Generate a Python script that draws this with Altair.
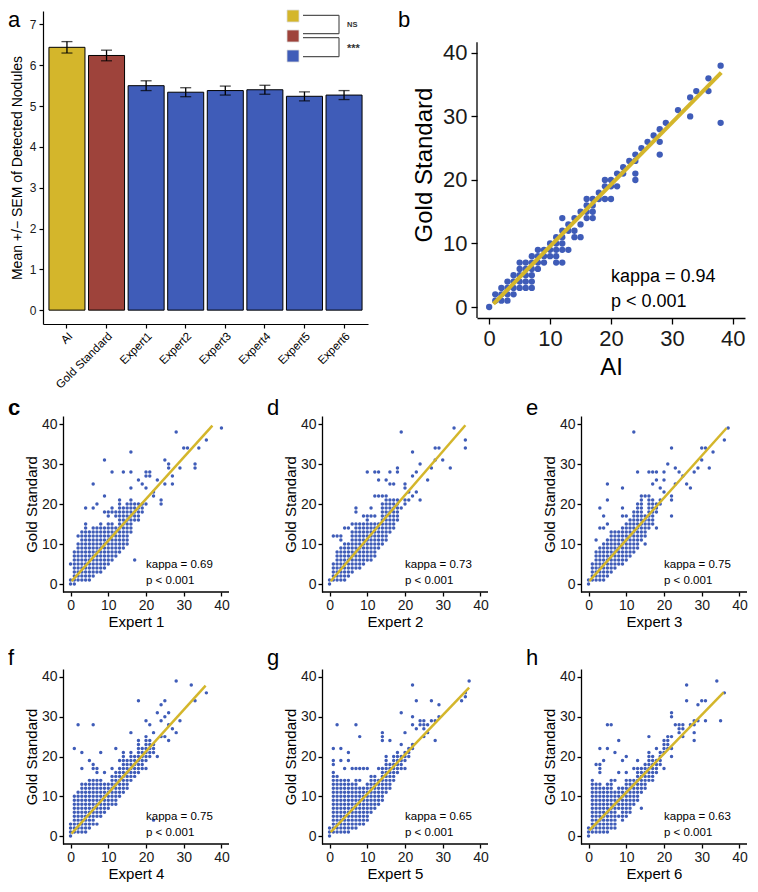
import altair as alt
import pandas as pd

GOLD = "#D4B62B"
RED = "#9E433B"
BLUE = "#3F5CB8"
FONT = "Liberation Sans"

# ---------------- panel a data ----------------
bar_groups = ["AI", "Gold Standard", "Expert1", "Expert2", "Expert3", "Expert4", "Expert5", "Expert6"]
bar_means = [6.44, 6.24, 5.50, 5.34, 5.38, 5.40, 5.24, 5.27]
bar_sem = [0.14, 0.13, 0.12, 0.11, 0.11, 0.11, 0.11, 0.11]
bar_colors = [GOLD, RED, BLUE, BLUE, BLUE, BLUE, BLUE, BLUE]
legend_colors = [GOLD, RED, BLUE]
legend_marks = ["NS", "***"]

# ---------------- scatter data (x value -> y values / runs) ----------------
ai_cols = {0: "0", 1: "1-2", 2: "1-3", 3: "1-4", 4: "2-5", 5: "3-7", 6: "3-7", 7: "3-8",
           8: "6-9", 9: "7-9", 10: "8-10", 11: "7-11", 12: "7 9-12 14", 13: "9 12-13",
           14: "11-12 14", 15: "11 13 15", 16: "14-17", 17: "14-17", 18: "17-18",
           19: "17 19-20", 20: "17 19-20", 21: "19 21", 22: "21-22", 23: "23",
           24: "20-21 23-24", 25: "25", 26: "26", 27: "27", 28: "24 26 28", 29: "29",
           31: "31", 33: "30 33", 34: "34", 36: "34 36", 38: "29 38"}

e1_cols = {0: "0-1 5", 1: "0-8", 2: "1-10 12", 3: "1-13", 4: "1-15 19", 5: "1-13",
           6: "2-14 19 25", 7: "3-14 20", 8: "3-15", 9: "4-14 18 22 31", 10: "5-15 17-18",
           11: "6-15 18-19 28", 12: "7-14 17-18", 13: "8-21", 14: "9-19 28", 15: "10-20",
           16: "13-21 24 28 33", 17: "6 16-20", 18: "16-20 26", 19: "18-20 25",
           20: "20 24 27-28", 21: "27-28", 22: "22-23", 23: "26", 24: "20-21",
           25: "25 31", 26: "29-30", 27: "25 27", 28: "38", 29: "29", 30: "34",
           31: "34", 33: "29-30", 34: "34", 36: "36", 40: "39"}

e2_cols = {0: "0-1", 1: "1-5 12", 2: "1-8 12", 3: "1-9 11-12", 4: "1-10 14", 5: "2-10 14",
           6: "3-13 15", 7: "4-15 18-19", 8: "4-15", 9: "5-15 17", 10: "6-16 17 28",
           11: "6-15 17 19", 12: "7-15 17 22 28", 13: "9-15 22 26 28", 14: "10-20 22",
           15: "11-21 22 26", 16: "13-21 25 28", 17: "14-21 25", 18: "16-21 28-29",
           19: "19 38", 20: "20-21 24-25", 21: "21 23", 22: "22 27 33", 23: "23 28",
           24: "21 30", 26: "26", 27: "29", 28: "31 34", 29: "34", 30: "31", 32: "29",
           33: "39", 36: "34 36"}

e3_cols = {0: "0-1", 1: "1-5", 2: "1-8 11", 3: "1-9 14 19", 4: "1-10 14 17",
           5: "2-11 15 21 25", 6: "3-13", 7: "4-13", 8: "5-13", 9: "5-14 17 19 24",
           10: "6-15 17", 11: "7-16", 12: "8-18 38", 13: "9-20 28", 14: "11-22",
           15: "10 12-17 22", 16: "14-22 28", 17: "15-21 25 28", 18: "14 18-20 26 28",
           19: "20-21 24", 20: "23 26 28", 21: "30", 22: "17 21-22 34", 23: "25 29",
           24: "28", 25: "27", 26: "25", 27: "24", 28: "28", 29: "29", 30: "31 34",
           31: "34", 32: "29", 33: "33", 36: "36", 37: "39"}

e4_cols = {0: "0-3", 1: "1-10 22", 2: "1-11 28", 3: "1-13 17 21", 4: "1-13", 5: "2-14 19",
           6: "3-14 17-18 28", 7: "3 5-14 16-17", 8: "5-14 21", 9: "6-13 16", 10: "7-13",
           11: "8-15 17", 12: "8-16 22", 13: "10-17 19", 14: "11-21", 15: "12-19",
           16: "14-21 26", 17: "15-20", 18: "16-24 34", 19: "17-22", 20: "17 19-25 29",
           21: "20-24 28", 22: "4 21-23 26", 23: "20 31", 24: "25 29 33", 25: "25 30 34",
           26: "24 28 31", 27: "27", 28: "26 39", 29: "29", 32: "38", 33: "34", 36: "36"}

e5_cols = {0: "0-2", 1: "1-16 18-19 22", 2: "1-15 28", 3: "1-14 19 22", 4: "1-14 17",
           5: "1-14 19 21", 6: "2-13 17", 7: "2-14 17 28", 8: "3-12 14 17 25", 9: "3-12 17",
           10: "4-13 17", 11: "6-15", 12: "7-15", 13: "8-14 17", 14: "9-17 24-26",
           15: "11-20", 16: "12-18 24", 17: "14-20", 18: "16-21", 19: "17-20 23 31",
           20: "17 19-21 26", 21: "20-22", 22: "22-23 28 30 38", 23: "27 34", 24: "28-29",
           25: "25 27-29", 26: "26 28", 27: "29 34", 28: "24 29", 29: "30 33", 35: "34",
           36: "35-36", 37: "39"}

e6_cols = {0: "0-2", 1: "1-14", 2: "1-13 18", 3: "1-13 16-18 22", 4: "1-12 19",
           5: "1-13 22 28", 6: "2-14 28", 7: "2-11 14 21", 8: "5 7-12 16 24", 9: "4-12 19",
           10: "5-14 16 20", 11: "6-14", 12: "8-14 17", 13: "9-17 19", 14: "7 11-17",
           15: "12-18", 16: "14-21 25", 17: "14-20", 18: "16-19 22", 19: "18-21",
           20: "17 21-24", 21: "22-25", 22: "20 22 25 30-31", 23: "28", 24: "26-28",
           25: "25 27-28", 26: "34 38", 27: "28", 28: "24 26 28-29", 29: "29 33", 30: "34",
           31: "29 34", 34: "39", 35: "29", 36: "36"}

# fitted line end points: (x0, y0, x1, y1)
fit_ai = [0.7, 0.5, 38.1, 36.9]
fit_e1 = [0.3, 0.7, 37.6, 39.6]
fit_e2 = [0.3, 0.7, 36.0, 39.7]
fit_e3 = [0.2, 0.7, 36.6, 39.0]
fit_e4 = [0.25, 0.6, 35.8, 37.8]
fit_e5 = [0.3, 1.0, 37.0, 37.3]
fit_e6 = [0.2, 1.4, 35.8, 36.1]

kappas = ["0.94", "0.69", "0.73", "0.75", "0.75", "0.65", "0.63"]
axis_ticks = [0, 10, 20, 30, 40]


def expand(cols):
    xs, ys = [], []
    for x, spec in cols.items():
        for tok in spec.split():
            if "-" in tok:
                lo, hi = map(int, tok.split("-"))
                vals = list(range(lo, hi + 1))
            else:
                vals = [int(tok)]
            for v in vals:
                xs.append(x)
                ys.append(v)
    return pd.DataFrame({"x": xs, "y": ys})


def one_row():
    return alt.Data(values=[{}])


def letter_layer(txt, dx, dy, size=22, weight="normal"):
    return alt.Chart(one_row()).mark_text(
        text=txt, align="left", baseline="top", fontSize=size, font=FONT,
        fontWeight=weight, color="black"
    ).encode(x=alt.value(dx), y=alt.value(dy))


def frame_layer(left, top, right, bottom):
    # invisible diagonal rule that fixes the outer bounds of a panel cell
    return alt.Chart(one_row()).mark_rule(opacity=0, strokeWidth=0).encode(
        x=alt.value(left), y=alt.value(top), x2=alt.value(right), y2=alt.value(bottom))


# ---------------- panel a ----------------
bar_df = pd.DataFrame({
    "group": bar_groups, "mean": bar_means, "color": bar_colors,
    "lo": [m - s for m, s in zip(bar_means, bar_sem)],
    "hi": [m + s for m, s in zip(bar_means, bar_sem)],
})

A_W, A_H = 325, 313
xa = alt.X("group:N", sort=bar_groups,
           scale=alt.Scale(paddingInner=0.09, paddingOuter=0.15),
           axis=alt.Axis(title=None, labelAngle=-45, labelAlign="right", labelBaseline="top",
                         labelFontSize=11.5, tickSize=4, labelPadding=2, domainWidth=1.2,
                         tickWidth=1.2, labelColor="black"))
ya_scale = alt.Scale(domain=[-0.34, 7.33], nice=False, zero=False)

bars = alt.Chart(bar_df).mark_bar(stroke="black", strokeWidth=1).encode(
    x=xa,
    y=alt.Y("mean:Q", scale=ya_scale,
            axis=alt.Axis(values=[0, 1, 2, 3, 4, 5, 6, 7],
                          title="Mean +/\u2212 SEM of Detected Nodules",
                          titleFontSize=14, labelFontSize=12, tickSize=4, labelPadding=3,
                          titlePadding=5, domainWidth=1.2, tickWidth=1.2)),
    y2=alt.datum(0),
    color=alt.Color("color:N", scale=None),
)
err = alt.Chart(bar_df).mark_rule(color="black", strokeWidth=1.3).encode(
    x=alt.X("group:N", sort=bar_groups), y="lo:Q", y2="hi:Q")
cap_lo = alt.Chart(bar_df).mark_tick(color="black", size=11, thickness=1.3).encode(
    x=alt.X("group:N", sort=bar_groups), y="lo:Q")
cap_hi = alt.Chart(bar_df).mark_tick(color="black", size=11, thickness=1.3).encode(
    x=alt.X("group:N", sort=bar_groups), y="hi:Q")

legend_layers = []
for i, col in enumerate(legend_colors):
    legend_layers.append(
        alt.Chart(one_row()).mark_square(size=144, color=col, opacity=1,
                                         stroke="#dddddd", strokeWidth=0.8)
        .encode(x=alt.value(250), y=alt.value(5 + 20 * i)))
seg_style = dict(color="#555555", strokeWidth=1.2)
segs = [(260, 296, 4.3, 4.3), (260, 296, 22.7, 22.7), (296, 296, 4.3, 22.7),
        (260, 296, 26.7, 26.7), (260, 296, 45.7, 45.7), (296, 296, 26.7, 45.7)]
for x1, x2, y1, y2 in segs:
    legend_layers.append(
        alt.Chart(one_row()).mark_rule(**seg_style).encode(
            x=alt.value(x1), x2=alt.value(x2), y=alt.value(y1), y2=alt.value(y2)))
legend_layers.append(
    alt.Chart(one_row()).mark_text(text=legend_marks[0], fontSize=7.5, font=FONT,
                                   fontWeight="bold", color="#333333", align="left")
    .encode(x=alt.value(304), y=alt.value(14)))
legend_layers.append(
    alt.Chart(one_row()).mark_text(text=legend_marks[1], fontSize=11, font=FONT,
                                   fontWeight="bold", color="#333333", align="left")
    .encode(x=alt.value(304), y=alt.value(38)))

ROW1_TOP = 2        # space above the top row plots
ROW1_BOTTOM = 385   # bottom of the top row cell, measured from the plot top
TOP_LETTER_Y = -1
panel_a = alt.layer(bars, err, cap_lo, cap_hi, *legend_layers,
                    letter_layer("a", -35, TOP_LETTER_Y),
                    frame_layer(-35, -ROW1_TOP, A_W + 29, ROW1_BOTTOM)
                    ).properties(width=A_W, height=A_H)


# ---------------- panel b (large scatter) ----------------
def big_panel(cols, fit, kappa, xtitle, letter, w, h):
    df = expand(cols)
    sx = alt.Scale(domain=[-2, 42], nice=False, zero=False)
    sy = alt.Scale(domain=[-1.73, 46.6], nice=False, zero=False)
    ax_common = dict(values=axis_ticks, labelFontSize=22, titleFontSize=24, tickSize=6,
                     labelPadding=4, titlePadding=6, domainWidth=1.3, tickWidth=1.3,
                     labelFlush=False)
    x = alt.X("x:Q", scale=sx, axis=alt.Axis(title=xtitle, **ax_common))
    y = alt.Y("y:Q", scale=sy, axis=alt.Axis(title="Gold Standard", domain=False, **ax_common))
    pts = alt.Chart(df).mark_circle(size=40, color=BLUE, opacity=1).encode(x=x, y=y)
    line_df = pd.DataFrame({"x": [fit[0], fit[2]], "y": [fit[1], fit[3]]})
    ln = alt.Chart(line_df).mark_line(color=GOLD, strokeWidth=4).encode(x="x:Q", y="y:Q")
    txt_df = pd.DataFrame({"x": [20, 20], "y": [4.7, 0.8],
                           "t": ["kappa = " + kappa, "p < 0.001"]})
    txt = alt.Chart(txt_df).mark_text(align="left", baseline="middle", fontSize=18,
                                      font=FONT, color="black").encode(
        x="x:Q", y="y:Q", text="t:N")
    yline = alt.Chart(one_row()).mark_rule(color="black", strokeWidth=1.3).encode(
        x=alt.value(0), y=alt.datum(41.7), y2=alt.value(h))
    return alt.layer(pts, ln, txt, yline,
                     letter_layer(letter, -79, TOP_LETTER_Y),
                     frame_layer(-80, -ROW1_TOP, w + 2, ROW1_BOTTOM)
                     ).properties(width=w, height=h)


B_W, B_H = 268, 307
panel_b = big_panel(ai_cols, fit_ai, kappas[0], "AI", "b", B_W, B_H)

# ---------------- small scatter panels ----------------
S_W = 166      # visible plot width
S_EXT = 20     # extra room on the left of each small plot (axis drawn inside)
X_MIN = -2 - S_EXT * 44.0 / S_W


def small_panel(cols, fit, kappa, xtitle, letter, h, frame, letter_dy, weight="normal"):
    df = expand(cols)
    w = S_W + S_EXT
    sx = alt.Scale(domain=[X_MIN, 42], nice=False, zero=False)
    sy = alt.Scale(domain=[-2, 42], nice=False, zero=False)
    ax_common = dict(values=axis_ticks, labelFontSize=14, titleFontSize=15, tickSize=4,
                     labelPadding=2, titlePadding=2, domainWidth=1.3, tickWidth=1.3,
                     labelFlush=False)
    x = alt.X("x:Q", scale=sx, axis=alt.Axis(title=xtitle, domain=False, **ax_common))
    y = alt.Y("y:Q", scale=sy, axis=alt.Axis(title="Gold Standard", offset=-S_EXT,
                                             **ax_common))
    pts = alt.Chart(df).mark_circle(size=12, color=BLUE, opacity=1).encode(x=x, y=y)
    line_df = pd.DataFrame({"x": [fit[0], fit[2]], "y": [fit[1], fit[3]]})
    ln = alt.Chart(line_df).mark_line(color=GOLD, strokeWidth=2.5).encode(x="x:Q", y="y:Q")
    txt_df = pd.DataFrame({"x": [20, 20], "y": [4.7, 0.8],
                           "t": ["kappa = " + kappa, "p < 0.001"]})
    txt = alt.Chart(txt_df).mark_text(align="left", baseline="middle", fontSize=11.5,
                                      font=FONT, color="black").encode(
        x="x:Q", y="y:Q", text="t:N")
    xline = alt.Chart(one_row()).mark_rule(color="black", strokeWidth=1.3).encode(
        x=alt.datum(-2), x2=alt.value(w), y=alt.value(h))
    return alt.layer(pts, ln, txt, xline,
                     letter_layer(letter, -35, letter_dy, weight=weight),
                     frame_layer(*frame)).properties(width=w, height=h)


R2_H, R3_H = 176, 175
R2_TOP, R2_BOTTOM = 20, 54
R3_TOP, R3_BOTTOM = 23, 40
W_ALL = S_W + S_EXT
panel_c = small_panel(e1_cols, fit_e1, kappas[1], "Expert 1", "c", R2_H,
                      (-35, -R2_TOP, W_ALL + 38, R2_H + R2_BOTTOM), -18, weight="bold")
panel_d = small_panel(e2_cols, fit_e2, kappas[2], "Expert 2", "d", R2_H,
                      (-35, -R2_TOP, W_ALL + 38, R2_H + R2_BOTTOM), -18)
panel_e = small_panel(e3_cols, fit_e3, kappas[3], "Expert 3", "e", R2_H,
                      (-35, -R2_TOP, W_ALL + 1, R2_H + R2_BOTTOM), -18)
panel_f = small_panel(e4_cols, fit_e4, kappas[4], "Expert 4", "f", R3_H,
                      (-35, -R3_TOP, W_ALL + 38, R3_H + R3_BOTTOM), -21)
panel_g = small_panel(e5_cols, fit_e5, kappas[5], "Expert 5", "g", R3_H,
                      (-35, -R3_TOP, W_ALL + 38, R3_H + R3_BOTTOM), -21)
panel_h = small_panel(e6_cols, fit_e6, kappas[6], "Expert 6", "h", R3_H,
                      (-35, -R3_TOP, W_ALL + 1, R3_H + R3_BOTTOM), -21)

row1 = alt.hconcat(panel_a, panel_b, spacing=0)
row2 = alt.hconcat(panel_c, panel_d, panel_e, spacing=0)
row3 = alt.hconcat(panel_f, panel_g, panel_h, spacing=0)

chart = alt.vconcat(row1, row2, row3, spacing=0).properties(padding=0).configure_view(
    stroke=None
).configure_axis(
    domainColor="black", tickColor="black", labelColor="#1a1a1a", titleColor="black",
    labelFont=FONT, titleFont=FONT, grid=False, titleFontWeight="normal"
).configure_text(font=FONT)

chart.save("out.html", embed_options={"renderer": "svg", "actions": False})
